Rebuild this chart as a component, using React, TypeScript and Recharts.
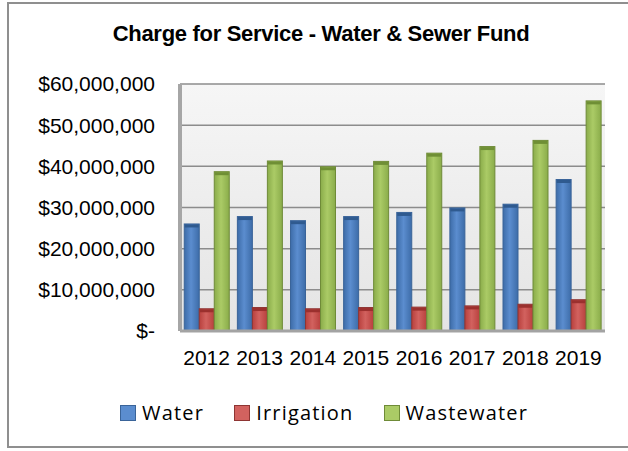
import React from 'react';
import { BarChart, Bar, XAxis, YAxis, CartesianGrid } from 'recharts';

// values (dollars, millions)
const years = ['2012', '2013', '2014', '2015', '2016', '2017', '2018', '2019'];
const water = [26.0, 27.8, 26.8, 27.8, 28.8, 29.9, 30.8, 36.8];
const irrigation = [5.4, 5.7, 5.4, 5.7, 5.8, 6.1, 6.5, 7.6];
const wastewater = [38.7, 41.3, 39.9, 41.2, 43.2, 44.8, 46.3, 55.9];
const yTicks = [0, 10000000, 20000000, 30000000, 40000000, 50000000, 60000000];

const series = [
    { key: 'water', name: 'Water', edge: '#3d6ca8', mid: '#5b8dcf', top: '#2f5a8f', stroke: '#3a6499' },
    { key: 'irrigation', name: 'Irrigation', edge: '#b8403d', mid: '#d2625f', top: '#9b302e', stroke: '#8e3533' },
    { key: 'wastewater', name: 'Wastewater', edge: '#8aac4a', mid: '#abcb66', top: '#6f8f35', stroke: '#6f8b38' },
];

const data = years.map((y, i) => ({
    year: y,
    water: water[i] * 1e6,
    irrigation: irrigation[i] * 1e6,
    wastewater: wastewater[i] * 1e6,
}));

const money = (v: number) => {
    if (v === 0) return '$-';
    return '$' + String(Math.round(v)).replace(/\B(?=(\d{3})+(?!\d))/g, ',');
};

const FONT = '"Liberation Sans", Arial, sans-serif';

// flat bar with a darker cap, to hint at the 3D top face of the original
const makeShape = (s: any) => (props: any) => {
    const { x, y, width, height } = props;
    if (!height || height <= 0) return null;
    const cap = Math.min(3, height);
    return (
        <g>
            <rect x={x} y={y} width={width} height={height} fill={'url(#g-' + s.key + ')'} stroke={s.stroke} strokeWidth={1} />
            <rect x={x + 0.5} y={y + 0.5} width={width - 1} height={cap} fill={s.top} />
        </g>
    );
};

export default function App() {
    return (
        <div style={{ position: 'absolute', left: 0, top: 0, width: 628, height: 451, background: '#fff', overflow: 'hidden' }}>
            {/* outer frame */}
            <div style={{ position: 'absolute', left: 7, top: 2, width: 630, height: 446, border: '2px solid #8f8f8f', boxSizing: 'border-box' }} />

            <div style={{
                position: 'absolute', left: 0, top: 21, width: 642, textAlign: 'center',
                fontFamily: FONT, fontWeight: 'bold', fontSize: 22, letterSpacing: -0.3, color: '#000', lineHeight: '26px'
            }}>
                Charge for Service - Water &amp; Sewer Fund
            </div>

            <div style={{ position: 'absolute', left: 0, top: 0 }}>
                <BarChart
                    width={628}
                    height={451}
                    data={data}
                    margin={{ top: 84, right: 23, bottom: 90, left: 10 }}
                    barCategoryGap="8%"
                    barGap={0}
                >
                    <defs>
                        <linearGradient id="wall" x1="0" y1="0" x2="0" y2="1">
                            <stop offset="0%" stopColor="#f6f6f6" />
                            <stop offset="100%" stopColor="#e4e4e4" />
                        </linearGradient>
                        {series.map(s => (
                            <linearGradient key={s.key} id={'g-' + s.key} x1="0" y1="0" x2="1" y2="0">
                                <stop offset="0%" stopColor={s.edge} />
                                <stop offset="45%" stopColor={s.mid} />
                                <stop offset="100%" stopColor={s.edge} />
                            </linearGradient>
                        ))}
                    </defs>
                    <CartesianGrid vertical={false} stroke="#8c8c8c" strokeWidth={1.5} fill="url(#wall)" fillOpacity={1} />
                    <XAxis
                        dataKey="year"
                        tickLine={false}
                        axisLine={{ stroke: '#a3a3a3', strokeWidth: 3 }}
                        tickMargin={13}
                        tick={{ fontSize: 21, fill: '#000', fontFamily: FONT }}
                        interval={0}
                    />
                    <YAxis
                        width={170}
                        domain={[0, 60000000]}
                        ticks={yTicks}
                        tickFormatter={money}
                        tickLine={false}
                        axisLine={{ stroke: '#a6a6a6', strokeWidth: 4 }}
                        tickMargin={19}
                        tick={{ fontSize: 21, fill: '#000', fontFamily: FONT }}
                    />
                    {series.map(s => (
                        <Bar
                            key={s.key}
                            dataKey={s.key}
                            name={s.name}
                            fill={s.mid}
                            shape={makeShape(s)}
                            isAnimationActive={false}
                        />
                    ))}
                </BarChart>
            </div>

            {/* legend */}
            <div style={{
                position: 'absolute', left: 120, top: 400, display: 'flex', alignItems: 'center',
                fontFamily: '"Open Sans", sans-serif', fontSize: 20, letterSpacing: 1.2, color: '#000'
            }}>
                {series.map((s, i) => (
                    <div key={s.key} style={{ display: 'flex', alignItems: 'center', marginRight: i < series.length - 1 ? 30 : 0 }}>
                        <span style={{
                            display: 'inline-block', width: 14, height: 14, marginRight: 6,
                            background: s.mid, border: '1px solid ' + s.stroke
                        }} />
                        <span style={{ lineHeight: '26px' }}>{s.name}</span>
                    </div>
                ))}
            </div>
        </div>
    );
}
